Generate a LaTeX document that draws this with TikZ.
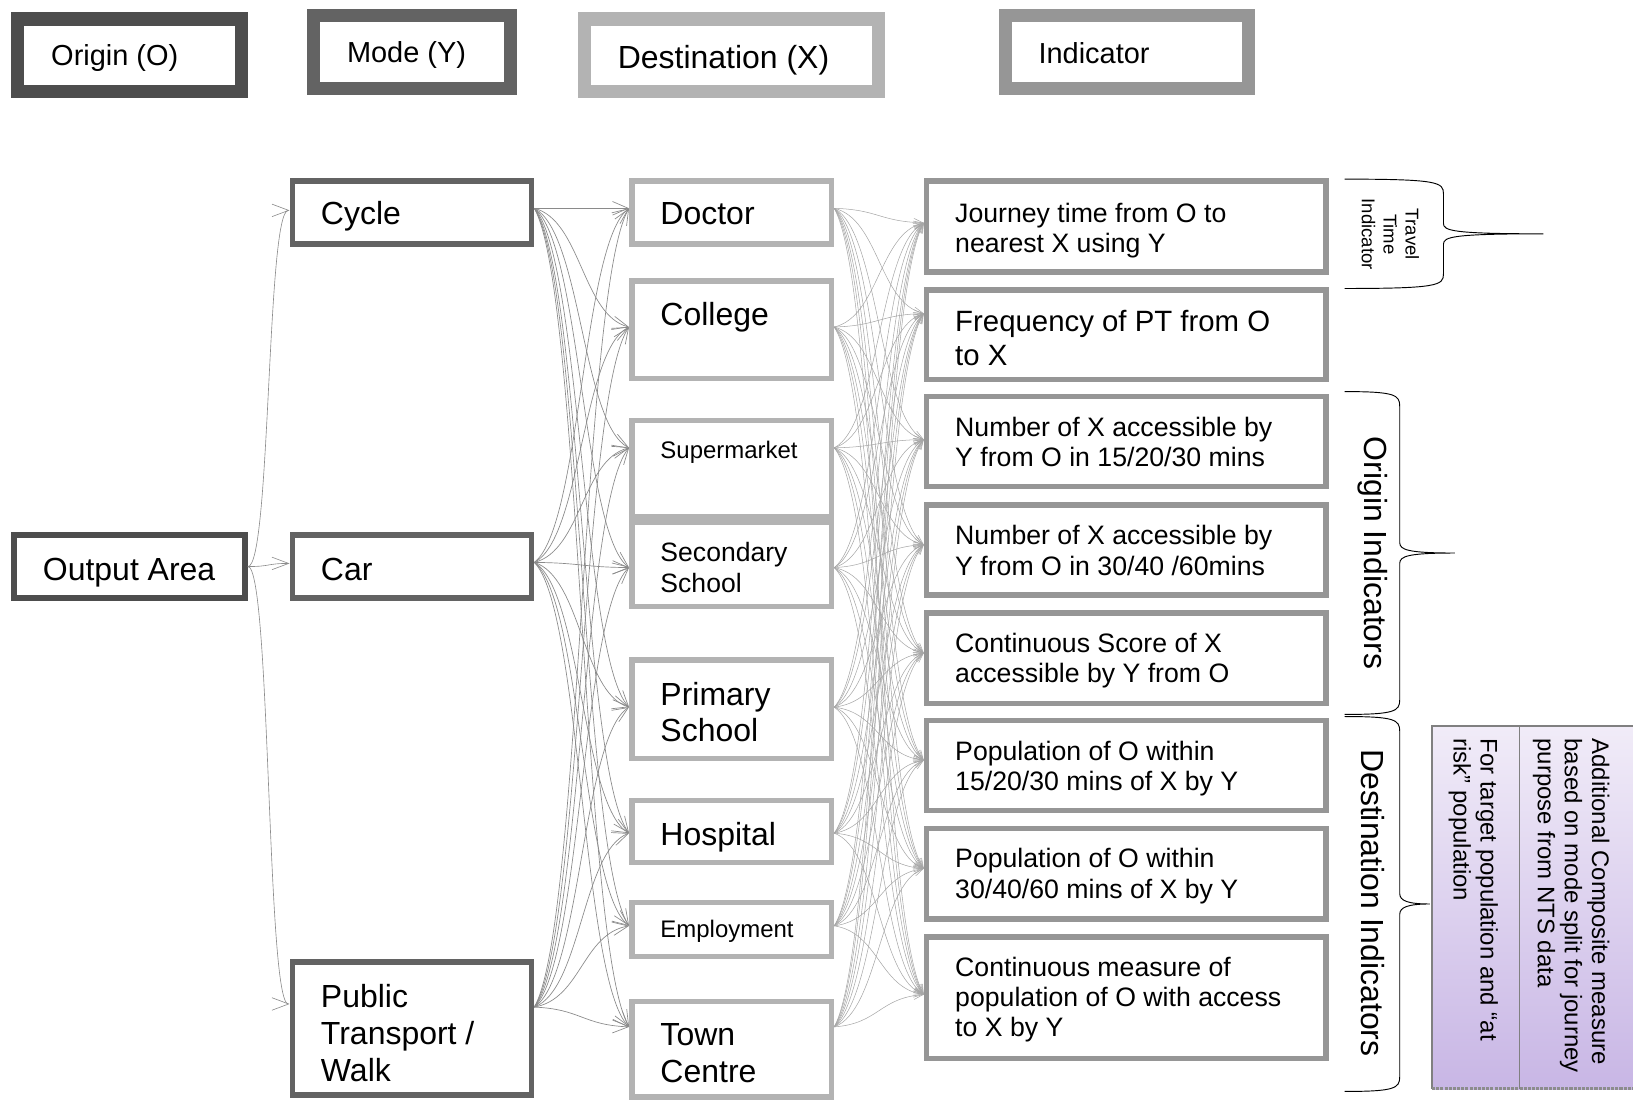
\documentclass[tikz,border=0pt]{standalone}
\usepackage{fontspec}
\setmainfont{Liberation Sans}
\usetikzlibrary{arrows.meta,calc}
\newcommand\setfs[2]{\fontsize{#1pt}{#2pt}\selectfont}
\definecolor{cOrig}{HTML}{4D4D4D}
\definecolor{cMode}{HTML}{636363}
\definecolor{cDest}{HTML}{B3B3B3}
\definecolor{cInd}{HTML}{969696}
\definecolor{cLineA}{HTML}{8C8C8C}
\definecolor{cLineB}{HTML}{8A8A8A}
\definecolor{cLineC}{HTML}{A6A6A6}
\definecolor{purpTop}{HTML}{F1ECF8}
\definecolor{purpBot}{HTML}{C8B6E5}
% curly brace: left end x, spine x, tip x, top y, bottom y, middle y
\newcommand\drawcurly[6]{%
  \draw[curly] (#1,#4) .. controls ({#2-5},#4) and (#2,{#4+3}) .. (#2,{#4+14})
    -- (#2,{#6-10}) .. controls (#2,{#6-3}) and ({#2+8},#6) .. (#3,#6)
    .. controls ({#2+8},#6) and (#2,{#6+3}) .. (#2,{#6+10})
    -- (#2,{#5-14}) .. controls (#2,{#5-3}) and ({#2-5},#5) .. (#1,#5);}
\begin{document}
\begin{tikzpicture}[x=1pt,y=-1pt,
  legbox/.style={draw, line width=12.5pt, inner sep=0pt, fill=white, minimum height=69.5pt},
  mainbox/.style={draw, line width=5.3pt, inner sep=0pt, fill=white},
  destbox/.style={mainbox, draw=cDest, minimum width=191.7pt},
  indbox/.style={mainbox, draw=cInd, minimum width=383.7pt},
  lbl/.style={inner sep=0pt, anchor=base west, font=\setfs{30.7}{35}},
  mlbl/.style={inner sep=0pt, anchor=north west, align=left},
  indlbl/.style={mlbl, font=\setfs{25.6}{29}},
  rlbl/.style={inner sep=0pt, rotate=-90},
  curly/.style={draw=black, line width=0.9pt},
  oconn/.style={draw=cLineA, line width=0.6pt, -{Straight Barb[length=16pt,width=12pt]}},
  mconn/.style={draw=cLineB, line width=0.65pt, -{Straight Barb[length=15pt,width=13pt]}},
  dconn/.style={draw=cLineC, line width=0.5pt, -{Straight Barb[length=9pt,width=8pt]}}]
\useasboundingbox (0,0) rectangle (1568,1057);

% ---- legend ----
\node[legbox, draw=cOrig, minimum width=214.5pt] (legO) at (124.5,53) {};
\node[legbox, draw=cMode, minimum width=188.5pt] (legY) at (395.5,50) {};
\node[legbox, draw=cDest, minimum width=282.5pt] (legX) at (702.5,53) {};
\node[legbox, draw=cInd, minimum width=233.5pt] (legI) at (1082,50) {};
\node[lbl, font=\setfs{27.8}{32}] (legO-t) at (49,63) {Origin (O)};
\node[lbl, font=\setfs{27.8}{32}] (legY-t) at (333,60) {Mode (Y)};
\node[lbl] (legX-t) at (593,66) {Destination (X)};
\node[lbl, font=\setfs{27.8}{32}] (legI-t) at (997,61) {Indicator};

% ---- origin and modes ----
\node[mainbox, draw=cOrig, minimum width=221.7pt, minimum height=60.7pt] (outA) at (124.5,544) {};
\node[mainbox, draw=cMode, minimum width=229.7pt, minimum height=60.7pt] (cycle) at (395.5,204) {};
\node[mainbox, draw=cMode, minimum width=229.7pt, minimum height=60.7pt] (car) at (395.5,544) {};
\node[mainbox, draw=cMode, minimum width=229.7pt, minimum height=127.7pt] (pt) at (395.5,987.5) {};
\node[lbl] (outA-t) at (41,557) {Output Area};
\node[lbl] (cycle-t) at (308,216) {Cycle};
\node[lbl] (car-t) at (308,557) {Car};
\node[mlbl, font=\setfs{30.7}{35.5}] (pt-t) at (308,944.6) {Public\\Transport /\\Walk};

% ---- destinations ----
\node[destbox, minimum height=60.7pt] (doctor) at (702.5,204) {};
\node[destbox, minimum height=93.7pt] (college) at (702.5,316.5) {};
\node[destbox, minimum height=92.7pt] (superm) at (702.5,450) {};
\node[destbox, minimum height=80.7pt] (second) at (702.5,542) {};
\node[destbox, minimum height=94.7pt] (primary) at (702.5,681) {};
\node[destbox, minimum height=59.7pt] (hospital) at (702.5,798.5) {};
\node[destbox, minimum height=51.7pt] (employ) at (702.5,892.5) {};
\node[destbox, minimum height=91.7pt] (town) at (702.5,1007.5) {};
\node[lbl] (doctor-t) at (634,216) {Doctor};
\node[lbl] (college-t) at (634,313) {College};
\node[lbl, font=\setfs{23}{26}] (superm-t) at (634,440.3) {Supermarket};
\node[mlbl, font=\setfs{25.5}{30}] (second-t) at (634,520.6) {Secondary\\School};
\node[mlbl, font=\setfs{30.7}{35}] (primary-t) at (634,654.6) {Primary\\School};
\node[lbl] (hospital-t) at (634,812) {Hospital};
\node[lbl, font=\setfs{23}{26}] (employ-t) at (634,900.3) {Employment};
\node[mlbl, font=\setfs{30.7}{35}] (town-t) at (634,982.6) {Town\\Centre};

% ---- indicators ----
\node[indbox, minimum height=87.7pt] (i1) at (1081.5,217.5) {};
\node[indbox, minimum height=85.7pt] (i2) at (1081.5,321.5) {};
\node[indbox, minimum height=86.7pt] (i3) at (1081.5,424) {};
\node[indbox, minimum height=86.7pt] (i4) at (1081.5,528) {};
\node[indbox, minimum height=86.7pt] (i5) at (1081.5,632) {};
\node[indbox, minimum height=86.7pt] (i6) at (1081.5,735) {};
\node[indbox, minimum height=86.7pt] (i7) at (1081.5,839) {};
\node[indbox, minimum height=116.7pt] (i8) at (1081.5,958) {};
\node[indlbl] (i1-t) at (917,194.5) {Journey time from O to\\nearest X using Y};
\node[mlbl, font=\setfs{28.2}{33}] (i2-t) at (917,297.6) {Frequency of PT from O\\to X};
\node[indlbl] (i3-t) at (917,400.5) {Number of X accessible by\\Y from O in 15/20/30 mins};
\node[indlbl] (i4-t) at (917,504.5) {Number of X accessible by\\Y from O in 30/40 /60mins};
\node[indlbl] (i5-t) at (917,607.5) {Continuous Score of X\\accessible by Y from O};
\node[indlbl] (i6-t) at (917,711.5) {Population of O within\\15/20/30 mins of X by Y};
\node[indlbl] (i7-t) at (917,814.5) {Population of O within\\30/40/60 mins of X by Y};
\node[indlbl] (i8-t) at (917,918.5) {Continuous measure of\\population of O with access\\to X by Y};

% ---- connector ports on the box edges ----
\coordinate (cycle-i) at ([yshift=2pt]cycle.west);
\coordinate (car-i) at ([yshift=3pt]car.west);
\coordinate (pt-i) at ([yshift=23.5pt]pt.west);
\coordinate (cycle-o) at ([yshift=4pt]cycle.east);
\coordinate (car-o) at ([yshift=4pt]car.east);
\coordinate (pt-o) at ([yshift=20.5pt]pt.east);
\foreach \dst/\s in {doctor/4,college/2.5,superm/20,second/-3,primary/2,hospital/-1.5,employ/3.5,town/21.5}{
  \coordinate (\dst-i) at ([yshift=\s pt]\dst.west);
  \coordinate (\dst-o) at ([yshift=\s pt]\dst.east);
}
\foreach \ind/\s in {i1/3.5,i2/20.5,i3/2,i4/5,i5/5,i6/5,i7/5,i8/3}{
  \coordinate (\ind-i) at ([yshift=\s pt]\ind.west);
}

% ---- connectors: origin to modes ----
\foreach \md in {cycle,car,pt}{
  \draw[oconn] (outA.east) .. controls +(22pt,0pt) and +(-22pt,0pt) .. (\md-i);
}
% ---- connectors: modes to destinations (S-curves with a vertical middle) ----
\foreach \md in {cycle,car,pt}{
  \foreach \dst in {doctor,college,superm,second,primary,hospital,employ,town}{
    \draw[mconn] let \p1=(\md-o), \p2=(\dst-i) in
      (\p1) .. controls ({\x1+45pt},{0.9*\y1+0.1*\y2}) and ({\x2-45pt},{0.1*\y1+0.9*\y2}) .. (\p2);
  }
}
% ---- connectors: destinations to indicators ----
\foreach \dst in {doctor,college,superm,second,primary,hospital,employ,town}{
  \foreach \ind in {i1,i2,i3,i4,i5,i6,i7,i8}{
    \draw[dconn] let \p1=(\dst-o), \p2=(\ind-i) in
      (\p1) .. controls ({\x1+43pt},{0.9*\y1+0.1*\y2}) and ({\x2-43pt},{0.1*\y1+0.9*\y2}) .. (\p2);
  }
}

% ---- braces and their captions ----
\drawcurly{1291}{1386}{1482}{172}{277}{224.5}
\drawcurly{1291}{1344}{1397}{376}{686}{531}
\drawcurly{1291}{1344}{1373}{688}{1048}{868}
\node[rlbl, align=center, font=\setfs{17.8}{21}] (tti-t) at (1335,225) {Travel\\Time\\Indicator};
\node[rlbl, font=\setfs{30.7}{35}] (oi-t) at (1318,531) {Origin Indicators};
\node[rlbl, font=\setfs{30.7}{35}] (di-t) at (1318,867) {Destination Indicators};

% ---- composite measure panel ----
\fill[top color=purpTop, bottom color=purpBot] (1375,697) rectangle (1570,1046);
\draw[draw=gray, line width=1.2pt] (1570,697) -- (1375,697) -- (1375,1046);
\draw[draw=gray, line width=1.2pt] (1459,697) -- (1459,1046);
\draw[draw=black!45, line width=3pt, densely dotted] (1375,1045) -- (1570,1045);
\node[rlbl, anchor=north west, align=left, font=\setfs{23}{26}] (pR-t) at (1545.5,709)
  {Additional Composite measure\\based on mode split for journey\\purpose from NTS data};
\node[rlbl, anchor=north west, align=left, font=\setfs{23}{26}] (pL-t) at (1438.5,709)
  {For target population and “at\\risk” population};
\end{tikzpicture}
\end{document}
